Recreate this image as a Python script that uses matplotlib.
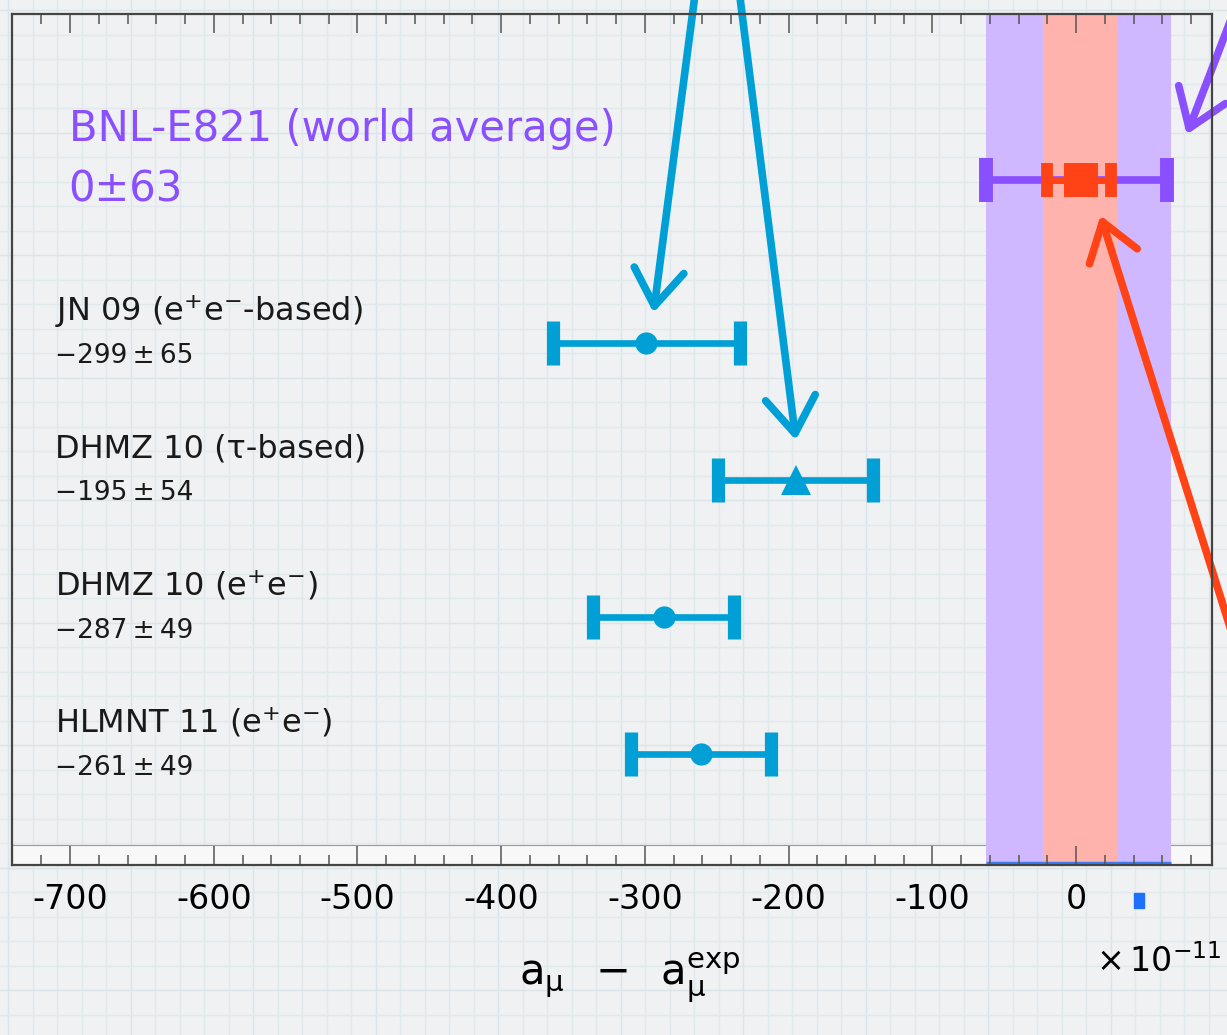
import numpy as np
import matplotlib.pyplot as plt
from matplotlib.patches import Rectangle

plt.rcParams['font.family'] = ['DejaVu Sans']
plt.rcParams['mathtext.fontset'] = 'dejavusans'
plt.rcParams['axes.unicode_minus'] = False

# theory predictions (x 1e-11), top to bottom
labels = ['JN 09 (e$^{+}$e$^{-}$-based)', 'DHMZ 10 (\u03c4-based)',
          'DHMZ 10 (e$^{+}$e$^{-}$)', 'HLMNT 11 (e$^{+}$e$^{-}$)']
values = [-299, -195, -287, -261]
errors = [65, 54, 49, 49]
rows = [4, 3, 2, 1]
markers = ['o', '^', 'o', 'o']

# experiment
bnl_label = 'BNL-E821 (world average)'
bnl_value, bnl_err = 0, 63
bnl_row = 5.19
future_value, future_err = 2, 22
purple_band = (-63, 66)
red_band = (-23, 29)

xticks = [-700, -600, -500, -400, -300, -200, -100, 0]

blue = '#00a0d6'
purple = '#8a4fff'
red = '#ff4316'

fig = plt.figure(figsize=(12.27, 10.35), dpi=100)
fig.patch.set_facecolor('#eff1f2')

# grid paper background
bg = fig.add_axes([0, 0, 1, 1], zorder=-1)
bg.set_xlim(0, 1227)
bg.set_ylim(1035, 0)
bg.axis('off')
for i, gx in enumerate(np.arange(8, 1227, 24.5)):
    bg.axvline(gx, color='#dae4e9' if i % 5 == 0 else '#e2e9ed', lw=1.0)
for i, gy in enumerate(np.arange(10, 1035, 24.5)):
    bg.axhline(gy, color='#dae4e9' if i % 5 == 0 else '#e2e9ed', lw=1.0)

ax = fig.add_axes([12 / 1227, (1035 - 865) / 1035, 1200 / 1227, 851 / 1035])
ax.set_facecolor('none')
ax.set_xlim(-740.4, 94.6)
ax.set_ylim(0.19, 6.40)

# white tick strip along the bottom
ax.axhspan(0.19, 0.335, facecolor='#f8f8f8', edgecolor='#9a9a9a', lw=0.8, zorder=0.5)

# experimental bands
ax.axvspan(*purple_band, color='#cfb8ff', lw=0, zorder=1)
ax.axvspan(*red_band, color='#ffb3ac', lw=0, zorder=1.1)
ax.plot(purple_band, [0.205, 0.205], color='#3a7df2', lw=2.5, zorder=1.2, solid_capstyle='butt')
ax.add_patch(Rectangle((40, 0.19 - 0.205), 7, -0.11, color='#1f6fff', clip_on=False))

# BNL and projected bars
ax.errorbar(bnl_value, bnl_row, xerr=bnl_err, fmt='none', ecolor=purple,
            elinewidth=5.5, capsize=15.5, capthick=10, zorder=3)
ax.errorbar(future_value, bnl_row, xerr=future_err, fmt='none', ecolor=red,
            elinewidth=5, capsize=12.5, capthick=8.5, zorder=4)
ax.plot(future_value + 1.5, bnl_row, 's', color=red, ms=24, mew=0, zorder=5)

# theory points
for v, e, r, m in zip(values, errors, rows, markers):
    ax.errorbar(v, r, xerr=e, fmt='none', ecolor=blue, elinewidth=4.8,
                capsize=15.5, capthick=9.5, zorder=3)
    ax.plot(v, r, m, color=blue, ms=21 if m == '^' else 16, mew=0, zorder=4)

# labels on the left
for lab, v, e, r in zip(labels, values, errors, rows):
    ax.text(-710.5, r + 0.16, lab, fontsize=23, va='baseline', ha='left', color='#1a1a1a')
    ax.text(-710.5, r - 0.15, '\u2212%d\u2009\u00b1\u2009%d' % (abs(v), e),
            fontsize=19, va='baseline', ha='left', color='#1a1a1a')

ax.text(-701, 5.47, bnl_label, fontsize=30, color=purple, va='baseline')
ax.text(-701, 5.03, '%d\u00b1%d' % (bnl_value, bnl_err), fontsize=30,
        color=purple, va='baseline')

# hand-drawn style arrows
head = '->,head_length=0.65,head_width=0.45'
arrows = [
    ((values[0] + 5, rows[0] + 0.22), (43, 330), blue),
    ((values[1], rows[1] + 0.29), (-58, 460), blue),
    ((77, bnl_row + 0.33), (48, 125), purple),
    ((17, bnl_row - 0.26), (140, -445), red),
]
for xy, off, c in arrows:
    ax.annotate('', xy=xy, xytext=off, textcoords='offset pixels',
                arrowprops=dict(arrowstyle=head, color=c, lw=5.5, shrinkA=0,
                                shrinkB=0, mutation_scale=40),
                annotation_clip=False, zorder=6)

# axes styling
ax.set_yticks([])
ax.set_xticks(xticks)
ax.set_xticklabels([str(t) for t in xticks])
ax.set_xticks(np.arange(-720, 95, 20), minor=True)
ax.tick_params(axis='x', which='major', direction='in', top=True, length=14,
               width=1.1, color='#555555', labelsize=24, pad=13)
ax.tick_params(axis='x', which='minor', direction='in', top=True, length=7,
               width=1.1, color='#555555')
for s in ax.spines.values():
    s.set_color('#444444')
    s.set_linewidth(1.6)
    s.set_zorder(6)

ax.set_xlabel(r'$\mathrm{a}_{\mathrm{\mu}}\;\;-\;\;\mathrm{a}_{\mathrm{\mu}}^{\mathrm{exp}}$',
              fontsize=30)
ax.xaxis.set_label_coords(0.515, -0.133)
ax.xaxis.label.set_va('center')

fig.text(1096 / 1227, 1 - 962 / 1035, r'$\times\,10^{-11}$', fontsize=24,
         va='center', ha='left')

fig.savefig('out.png', dpi=100, facecolor=fig.get_facecolor())
